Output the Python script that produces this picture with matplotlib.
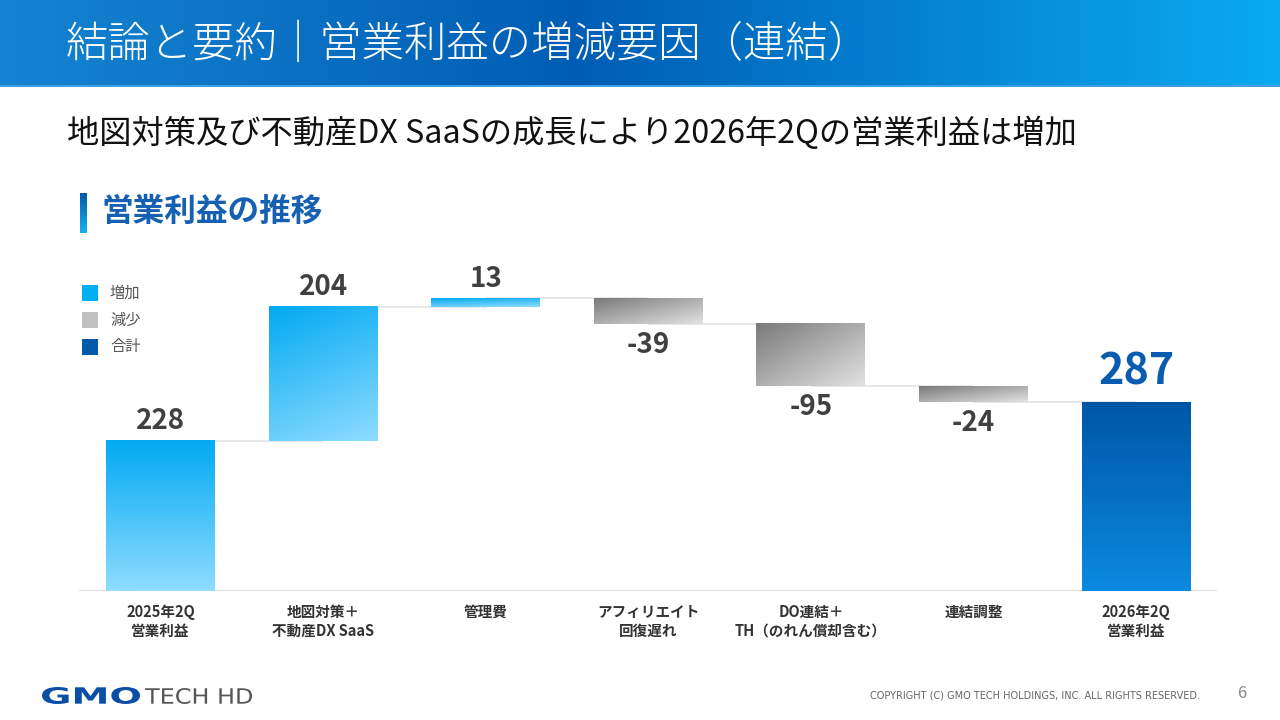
import numpy as np
import matplotlib
matplotlib.use('Agg')
import matplotlib.pyplot as plt
from matplotlib.colors import LinearSegmentedColormap
from matplotlib.patches import Rectangle, PathPatch
from matplotlib.textpath import TextPath
from matplotlib.font_manager import FontProperties
from matplotlib.transforms import Affine2D

plt.rcParams['font.family'] = ['Noto Sans CJK JP', 'DejaVu Sans']

# chart data
categories = ['2025年2Q\n営業利益', '地図対策＋\n不動産DX SaaS', '管理費', 'アフィリエイト\n回復遅れ',
              'DO連結＋\nTH（のれん償却含む）', '連結調整', '2026年2Q\n営業利益']
values = [228, 204, 13, -39, -95, -24, 287]
kinds = ['start', 'inc', 'inc', 'dec', 'dec', 'dec', 'total']
value_labels = ['228', '204', '13', '-39', '-95', '-24', '287']
legend_names = ['増加', '減少', '合計']
legend_colors = ['#00b0f0', '#c0c0c0', '#0058a8']

title = '結論と要約｜営業利益の増減要因（連結）'
subtitle = '地図対策及び不動産DX SaaSの成長により2026年2Qの営業利益は増加'
section = '営業利益の推移'

W, H = 1280, 720
fig = plt.figure(figsize=(12.8, 7.2), dpi=100)
fig.patch.set_facecolor('white')

# background axes in pixel coordinates
bg = fig.add_axes([0, 0, 1, 1])
bg.set_xlim(0, W)
bg.set_ylim(H, 0)
bg.axis('off')

header_cmap = LinearSegmentedColormap.from_list('hdr', [(0, '#1584d2'), (0.45, '#005db5'), (1, '#0aaaf2')])
grad = np.linspace(0, 1, 512).reshape(1, -1)
bg.imshow(grad, cmap=header_cmap, extent=(0, W, 86, 0), aspect='auto', interpolation='bilinear')
bg.add_patch(Rectangle((0, 85), W, 2, color='#3d9ee0', lw=0))
bg.text(66, 45, title, color='white', fontsize=30.5, fontweight='light', va='center', ha='left')

bg.text(67, 133, subtitle, color='#111111', fontsize=23.2, va='center', ha='left')

sec_cmap = LinearSegmentedColormap.from_list('sec', ['#0058a8', '#1ab0f0'])
bg.imshow(np.linspace(0, 1, 64).reshape(-1, 1), cmap=sec_cmap, extent=(80, 87, 233, 193),
          aspect='auto', interpolation='bilinear')
bg.text(101, 212, section, color='#1560b0', fontsize=22.8, fontweight='bold', va='center', ha='left')

# legend
for i, (name, col) in enumerate(zip(legend_names, legend_colors)):
    y = 293 + i * 27
    bg.add_patch(Rectangle((82, y - 8), 16, 16, color=col, lw=0))
    bg.text(110, y, name, color='#555555', fontsize=11, va='center', ha='left')


def logo_text(s, x0, x1, y_base, cap, color, weight):
    tp = TextPath((0, 0), s, size=100, prop=FontProperties(family='DejaVu Sans', weight=weight))
    ext = tp.get_extents()
    sx = (x1 - x0) / ext.width
    sy = cap / ext.height
    tr = Affine2D().translate(-ext.x0, -ext.y0).scale(sx, -sy).translate(x0, y_base)
    bg.add_patch(PathPatch(tr.transform_path(tp), color=color, lw=0))


# footer
logo_text('GMO', 42, 140, 704, 17, '#0a4fa6', 'bold')
logo_text('TECH HD', 145, 252, 704, 16, '#555555', 'normal')
bg.text(1200, 695, 'COPYRIGHT (C) GMO TECH HOLDINGS, INC. ALL RIGHTS RESERVED.', color='#666666',
        fontsize=7.0, va='center', ha='right', family='DejaVu Sans')
bg.text(1242, 693, '6', color='#888888', fontsize=12, va='center', ha='center')

# waterfall axes
step = 162.6
left_px = 160.5 - step / 2
right_px = 160.5 + 6.5 * step
base_px = 129
ymax = 500
scale = 0.658
ax = fig.add_axes([left_px / W, base_px / H, (right_px - left_px) / W, ymax * scale / H])
ax.patch.set_alpha(0)

inc_cmap = LinearSegmentedColormap.from_list('inc', ['#02aaf2', '#8edcff'])
dec_cmap = LinearSegmentedColormap.from_list('dec', ['#7a7a7a', '#e2e2e2'])
tot_cmap = LinearSegmentedColormap.from_list('tot', ['#0056a6', '#0a8ae0'])

u, v = np.meshgrid(np.linspace(0, 1, 64), np.linspace(0, 1, 128))
diag_inc = 0.25 * u + 0.75 * v
diag_dec = 0.5 * u + 0.5 * v
vert = v

bw = 0.67
level = 0
tops = []
for i, (val, kind) in enumerate(zip(values, kinds)):
    if kind in ('start', 'total'):
        bottom, top = 0, val
        level = val
    else:
        bottom, top = sorted([level, level + val])
        level = level + val
    tops.append(level)
    x0, x1 = i - bw / 2, i + bw / 2
    if kind == 'dec':
        cmap, g = dec_cmap, diag_dec
    elif kind == 'total':
        cmap, g = tot_cmap, vert
    elif kind == 'start':
        cmap, g = inc_cmap, vert
    else:
        cmap, g = inc_cmap, diag_inc
    ax.imshow(g, cmap=cmap, extent=(x0, x1, bottom, top), aspect='auto',
              interpolation='bilinear', zorder=3)
    if kind == 'dec':
        ax.annotate(value_labels[i], (i, bottom), xytext=(0, -5), textcoords='offset points',
                    ha='center', va='top', fontsize=20, fontweight='bold', color='#404040')
    elif kind == 'total':
        ax.annotate(value_labels[i], (i, top), xytext=(0, 6), textcoords='offset points',
                    ha='center', va='bottom', fontsize=31, fontweight='bold', color='#0a5cb0')
    else:
        ax.annotate(value_labels[i], (i, top), xytext=(0, 4), textcoords='offset points',
                    ha='center', va='bottom', fontsize=20, fontweight='bold', color='#404040')

# connectors
for i in range(len(values) - 1):
    ax.hlines(tops[i], i, i + 1, color='#e3e3e3', lw=1.2, zorder=1)

ax.axhline(0, color='#e0e0e0', lw=1.5, zorder=2)
ax.set_xlim(-0.5, len(values) - 0.5)
ax.set_ylim(0, ymax)
ax.set_xticks(range(len(categories)))
ax.set_xticklabels(categories, fontsize=10.5, fontweight='bold', color='#333333', linespacing=1.25)
ax.tick_params(axis='x', length=0, pad=9)
ax.set_yticks([])
for s in ax.spines.values():
    s.set_visible(False)

fig.savefig('out.png', dpi=100)
